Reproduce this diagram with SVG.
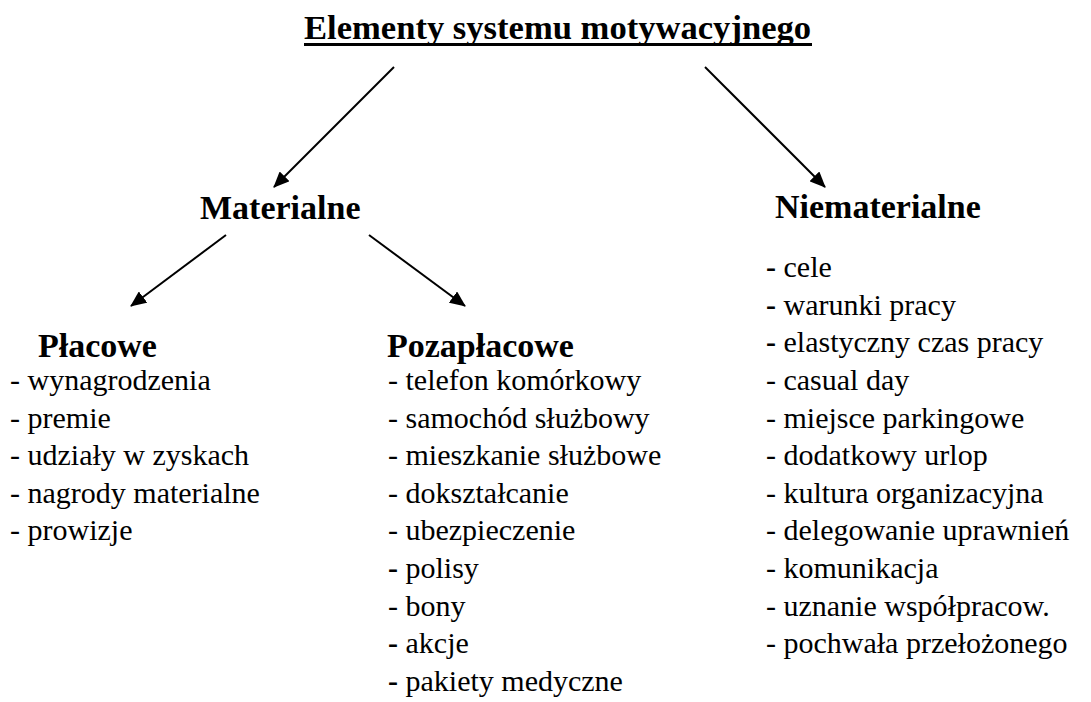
<svg xmlns="http://www.w3.org/2000/svg" width="1091" height="702" viewBox="0 0 1091 702">
<defs>
<marker id="ah" viewBox="0 0 16 14" refX="15" refY="7" markerWidth="16" markerHeight="14" markerUnits="userSpaceOnUse" orient="auto">
<path d="M0,0 L16,7 L0,14 z" fill="#000"/>
</marker>
</defs>
<rect width="1091" height="702" fill="#fff"/>
<g id="title">
<text x="304" y="39" font-family="'Liberation Serif', serif" font-size="34.6" font-weight="bold">Elementy systemu motywacyjnego</text>
<rect x="304" y="43" width="508" height="3" fill="#000"/>
</g>
<g id="connectors" stroke="#000" stroke-width="2" fill="none" marker-end="url(#ah)">
<line x1="394" y1="67" x2="274" y2="187"/>
<line x1="705" y1="67" x2="825" y2="187"/>
<line x1="226" y1="235" x2="131" y2="306"/>
<line x1="369" y1="235" x2="465" y2="306"/>
</g>
<g id="materialne">
<text x="200" y="219" font-family="'Liberation Serif', serif" font-size="34" font-weight="bold">Materialne</text>
</g>
<g id="niematerialne" font-family="'Times New Roman', 'Liberation Serif', serif" font-size="30">
<text x="775" y="218" font-family="'Liberation Serif', serif" font-size="34" font-weight="bold">Niematerialne</text>
<text x="766" y="277.2"><tspan font-weight="bold">-</tspan> cele</text>
<text x="766" y="314.8"><tspan font-weight="bold">-</tspan> warunki pracy</text>
<text x="766" y="352.4"><tspan font-weight="bold">-</tspan> elastyczny czas pracy</text>
<text x="766" y="390">- casual day</text>
<text x="766" y="427.6">- miejsce parkingowe</text>
<text x="766" y="465.2">- dodatkowy urlop</text>
<text x="766" y="502.8">- kultura organizacyjna</text>
<text x="766" y="540.4">- delegowanie uprawnień</text>
<text x="766" y="578">- komunikacja</text>
<text x="766" y="615.6">- uznanie współpracow.</text>
<text x="766" y="653.2">- pochwała przełożonego</text>
</g>
<g id="placowe" font-family="'Times New Roman', 'Liberation Serif', serif" font-size="30">
<text x="38" y="357" font-family="'Liberation Serif', serif" font-size="34" font-weight="bold">Płacowe</text>
<text x="10" y="390">- wynagrodzenia</text>
<text x="10" y="427.6">- premie</text>
<text x="10" y="465.2">- udziały w zyskach</text>
<text x="10" y="502.8">- nagrody materialne</text>
<text x="10" y="540.4">- prowizje</text>
</g>
<g id="pozaplacowe" font-family="'Times New Roman', 'Liberation Serif', serif" font-size="30">
<text x="387" y="357" font-family="'Liberation Serif', serif" font-size="34" font-weight="bold">Pozapłacowe</text>
<text x="388" y="390">- telefon komórkowy</text>
<text x="388" y="427.6">- samochód służbowy</text>
<text x="388" y="465.2">- mieszkanie służbowe</text>
<text x="388" y="502.8">- dokształcanie</text>
<text x="388" y="540.4">- ubezpieczenie</text>
<text x="388" y="578"><tspan font-weight="bold">-</tspan> polisy</text>
<text x="388" y="615.6">- bony</text>
<text x="388" y="653.2"><tspan font-weight="bold">-</tspan> akcje</text>
<text x="388" y="690.8"><tspan font-weight="bold">-</tspan> pakiety medyczne</text>
</g>
</svg>
